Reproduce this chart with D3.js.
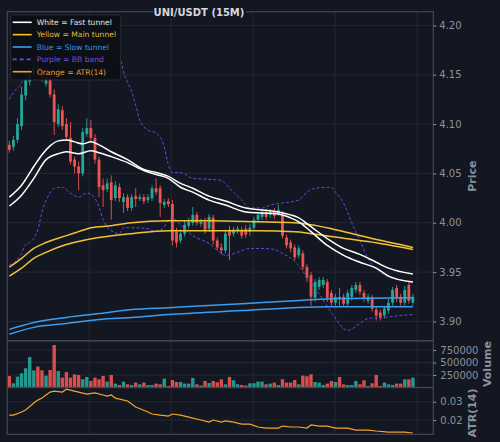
<!DOCTYPE html>
<meta charset="utf-8">
<script src="https://d3js.org/d3.v7.min.js"></script>
<style>
  body { margin: 0; background: #131722; }
  text { font-family: "DejaVu Sans", sans-serif; }
</style>
<div id="my_dataviz"></div>
<script>

  // ---- data (15m candles, index 0..99) ----
  var opens = [4.079, 4.077, 4.084, 4.098, 4.129, 4.143, 4.150, 4.159, 4.153, 4.141,
    4.147, 4.130, 4.100, 4.114, 4.100, 4.086, 4.064, 4.057, 4.050, 4.090,
    4.096, 4.086, 4.064, 4.038, 4.034, 4.041, 4.025, 4.036, 4.021, 4.026,
    4.015, 4.027, 4.024, 4.026, 4.023, 4.025, 4.035, 4.035, 4.018, 4.022,
    4.019, 3.991, 3.982, 3.989, 3.997, 4.000, 4.008, 3.999, 4.001, 3.994,
    4.005, 3.982, 3.975, 3.972, 3.993, 3.989, 3.992, 3.993, 3.994, 3.991,
    3.995, 4.003, 4.006, 4.011, 4.008, 4.012, 4.010, 4.008, 3.985, 3.980,
    3.975, 3.967, 3.969, 3.955, 3.947, 3.924, 3.935, 3.937, 3.940, 3.929,
    3.919, 3.925, 3.925, 3.918, 3.925, 3.932, 3.937, 3.929, 3.921, 3.924,
    3.912, 3.909, 3.906, 3.911, 3.919, 3.934, 3.925, 3.919, 3.937, 3.919];

  var closes = [4.074, 4.084, 4.100, 4.130, 4.145, 4.151, 4.159, 4.153, 4.147, 4.147,
    4.130, 4.102, 4.115, 4.098, 4.087, 4.062, 4.057, 4.050, 4.092, 4.096,
    4.086, 4.064, 4.036, 4.033, 4.040, 4.023, 4.038, 4.025, 4.026, 4.015,
    4.026, 4.024, 4.026, 4.022, 4.026, 4.035, 4.031, 4.020, 4.021, 4.019,
    3.982, 3.980, 3.989, 3.998, 4.001, 4.008, 4.000, 4.001, 3.993, 4.006,
    3.982, 3.975, 3.972, 3.989, 3.987, 3.993, 3.994, 3.987, 3.988, 3.995,
    4.003, 4.008, 4.011, 4.006, 4.011, 4.007, 4.013, 3.987, 3.977, 3.974,
    3.965, 3.974, 3.955, 3.944, 3.925, 3.940, 3.942, 3.942, 3.924, 3.919,
    3.925, 3.923, 3.918, 3.929, 3.934, 3.937, 3.930, 3.924, 3.925, 3.913,
    3.906, 3.904, 3.913, 3.919, 3.932, 3.924, 3.919, 3.932, 3.921, 3.925];

  var highs = [4.083, 4.088, 4.106, 4.138, 4.153, 4.155, 4.165, 4.167, 4.159, 4.151,
    4.153, 4.135, 4.120, 4.118, 4.106, 4.102, 4.067, 4.062, 4.096, 4.106,
    4.104, 4.090, 4.067, 4.045, 4.045, 4.048, 4.042, 4.040, 4.030, 4.029,
    4.029, 4.035, 4.029, 4.029, 4.029, 4.038, 4.045, 4.038, 4.024, 4.025,
    4.023, 3.995, 3.993, 4.002, 4.005, 4.016, 4.011, 4.004, 4.005, 4.009,
    4.008, 3.985, 3.979, 3.993, 3.997, 3.996, 3.997, 3.996, 3.998, 3.999,
    4.006, 4.011, 4.014, 4.014, 4.014, 4.015, 4.018, 4.012, 3.988, 3.983,
    3.978, 3.977, 3.972, 3.958, 3.950, 3.943, 3.945, 3.945, 3.943, 3.932,
    3.928, 3.934, 3.928, 3.932, 3.937, 3.940, 3.940, 3.932, 3.928, 3.927,
    3.915, 3.912, 3.916, 3.923, 3.935, 3.937, 3.928, 3.936, 3.941, 3.928];

  var lows = [4.071, 4.073, 4.081, 4.094, 4.124, 4.139, 4.147, 4.150, 4.143, 4.138,
    4.127, 4.089, 4.097, 4.094, 4.084, 4.059, 4.050, 4.033, 4.047, 4.087,
    4.082, 4.060, 4.026, 4.016, 4.031, 4.003, 4.022, 4.021, 4.010, 4.012,
    4.012, 4.016, 4.022, 4.019, 4.020, 4.022, 4.028, 4.006, 4.015, 4.016,
    3.977, 3.975, 3.979, 3.986, 3.994, 3.997, 3.997, 3.996, 3.989, 3.991,
    3.978, 3.972, 3.968, 3.969, 3.962, 3.986, 3.989, 3.984, 3.985, 3.987,
    3.992, 4.000, 4.003, 4.003, 4.005, 4.004, 4.007, 3.984, 3.974, 3.970,
    3.962, 3.964, 3.952, 3.940, 3.916, 3.920, 3.932, 3.934, 3.920, 3.916,
    3.916, 3.916, 3.915, 3.915, 3.921, 3.929, 3.927, 3.920, 3.918, 3.910,
    3.901, 3.901, 3.903, 3.908, 3.916, 3.920, 3.916, 3.916, 3.918, 3.916];

  var volumes = [230000, 84000, 218000, 284000, 384000, 610000, 344000, 418000, 344000, 238000,
    350000, 850000, 330000, 198000, 310000, 198000, 264000, 250000, 164000, 210000,
    130000, 198000, 164000, 230000, 118000, 250000, 78000, 50000, 118000, 64000,
    50000, 98000, 64000, 98000, 50000, 50000, 78000, 64000, 178000, 30000,
    150000, 110000, 110000, 78000, 78000, 190000, 64000, 40000, 130000, 90000,
    130000, 104000, 164000, 64000, 210000, 144000, 64000, 50000, 40000, 84000,
    84000, 118000, 118000, 64000, 78000, 98000, 50000, 164000, 98000, 98000,
    150000, 64000, 238000, 224000, 264000, 110000, 98000, 50000, 78000, 130000,
    110000, 210000, 64000, 50000, 50000, 130000, 64000, 144000, 30000, 84000,
    250000, 30000, 98000, 64000, 50000, 78000, 78000, 164000, 164000, 198000];

  // overlay lines: [candle index, value]
  var fastUpper = [[0, 4.026], [3, 4.038], [6, 4.057], [8, 4.069], [10, 4.078], [12, 4.083], [14, 4.084], [16, 4.082],
    [18, 4.080], [20, 4.082], [22, 4.079], [25, 4.072], [29, 4.064], [33, 4.054], [36, 4.051], [39, 4.047],
    [42, 4.040], [45, 4.035], [49, 4.027], [53, 4.022], [58, 4.015], [62, 4.013], [66, 4.011], [69, 4.008],
    [71, 4.005], [74, 3.996], [78, 3.984], [82, 3.974], [86, 3.968], [90, 3.960], [93, 3.954], [99, 3.948]];
  var fastLower = [[0, 4.017], [3, 4.028], [6, 4.045], [9, 4.064], [12, 4.070], [14, 4.072], [17, 4.070], [20, 4.073],
    [22, 4.071], [25, 4.067], [29, 4.061], [33, 4.053], [36, 4.049], [39, 4.045], [42, 4.036], [45, 4.031],
    [49, 4.023], [53, 4.018], [58, 4.011], [62, 4.010], [66, 4.009], [69, 4.005], [71, 4.001], [74, 3.991],
    [78, 3.977], [82, 3.967], [86, 3.960], [90, 3.954], [93, 3.946], [99, 3.940]];
  var mainUpper = [[0, 3.955], [3, 3.964], [6, 3.974], [9, 3.980], [14, 3.987], [17, 3.991], [20, 3.995], [25, 3.997],
    [30, 4.000], [39, 4.002], [49, 4.002], [61, 4.001], [70, 4.000], [74, 3.998], [79, 3.994], [88, 3.985], [99, 3.975]];
  var mainLower = [[0, 3.946], [3, 3.954], [6, 3.964], [9, 3.970], [14, 3.978], [18, 3.982], [22, 3.985], [30, 3.989],
    [39, 3.992], [49, 3.992], [61, 3.992], [70, 3.991], [79, 3.986], [88, 3.981], [99, 3.973]];
  var slowUpper = [[0, 3.892], [6, 3.899], [14, 3.904], [22, 3.908], [30, 3.912], [39, 3.914], [57, 3.918], [70, 3.921],
    [79, 3.923], [99, 3.924]];
  var slowLower = [[0, 3.887], [6, 3.894], [14, 3.898], [22, 3.902], [30, 3.904], [39, 3.907], [57, 3.911], [70, 3.914],
    [79, 3.915], [99, 3.915]];
  var bbUpper = [[0, 4.125], [1, 4.132], [3, 4.142], [4, 4.151], [6, 4.163], [9, 4.173], [11, 4.180], [15, 4.185],
    [19, 4.187], [22, 4.185], [25, 4.180], [27, 4.170], [28, 4.153], [30, 4.133], [31, 4.119], [32, 4.104],
    [34, 4.094], [36, 4.091], [38, 4.077], [39, 4.059], [40, 4.051], [42, 4.051], [45, 4.045], [49, 4.044],
    [52, 4.043], [54, 4.035], [57, 4.023], [59, 4.015], [62, 4.015], [64, 4.018], [67, 4.020], [71, 4.023],
    [73, 4.031], [75, 4.035], [79, 4.036], [80, 4.031], [82, 4.020], [84, 4.000], [86, 3.982], [88, 3.964],
    [91, 3.950], [93, 3.945], [96, 3.942], [99, 3.939]];
  var bbLower = [[0, 3.957], [3, 3.969], [4, 3.978], [5, 3.980], [7, 3.993], [8, 4.011], [10, 4.030], [11, 4.035],
    [13, 4.036], [15, 4.030], [17, 4.026], [19, 4.030], [20, 4.029], [22, 4.016], [23, 4.003], [25, 3.992],
    [27, 3.989], [28, 3.995], [30, 3.995], [34, 3.994], [36, 3.991], [38, 3.996], [39, 4.003], [40, 4.005],
    [42, 3.998], [45, 3.987], [49, 3.979], [52, 3.969], [53, 3.967], [56, 3.970], [59, 3.974], [62, 3.974],
    [65, 3.973], [67, 3.969], [70, 3.961], [73, 3.945], [76, 3.928], [79, 3.909], [83, 3.891], [86, 3.898],
    [88, 3.903], [92, 3.904], [96, 3.906], [99, 3.907]];
  var atr = [[0, 0.0227], [1, 0.0227], [3, 0.0244], [4, 0.0255], [6, 0.0293], [7, 0.0309], [8, 0.0320], [9, 0.0337],
    [10, 0.0353], [11, 0.0358], [13, 0.0353], [14, 0.0369], [16, 0.0358], [17, 0.0353], [19, 0.0342], [21, 0.0348],
    [23, 0.0337], [24, 0.0331], [25, 0.0337], [26, 0.0320], [29, 0.0304], [31, 0.0271], [34, 0.0244], [35, 0.0233],
    [37, 0.0227], [39, 0.0222], [40, 0.0233], [42, 0.0227], [44, 0.0216], [47, 0.0200], [49, 0.0189], [50, 0.0200],
    [52, 0.0189], [53, 0.0195], [55, 0.0189], [57, 0.0178], [59, 0.0178], [61, 0.0162], [63, 0.0156], [66, 0.0156],
    [67, 0.0167], [69, 0.0162], [71, 0.0162], [73, 0.0156], [74, 0.0173], [76, 0.0167], [78, 0.0167], [80, 0.0156],
    [83, 0.0156], [85, 0.0145], [88, 0.0145], [90, 0.0140], [93, 0.0134], [95, 0.0134], [97, 0.0134], [99, 0.0129]];

  var priceTicks = [3.90, 3.95, 4.00, 4.05, 4.10, 4.15, 4.20];
  var volumeTicks = [250000, 500000, 750000];
  var atrTicks = [0.02, 0.03];
  var gridIdx = [19.6, 39.7, 59.8, 79.9, 100];

  var legendItems = [
    { label: "White = Fast tunnel", line: "#ffffff", text: "#e6e6e6", dash: null },
    { label: "Yellow = Main tunnel", line: "#f2c232", text: "#e3bd34", dash: null },
    { label: "Blue = Slow tunnel", line: "#3c9ded", text: "#3b97e0", dash: null },
    { label: "Purple = BB band", line: "#6d45e0", text: "#7650e4", dash: "4,3" },
    { label: "Orange = ATR(14)", line: "#f5a42a", text: "#ec9d2b", dash: null }
  ];

  // ---- layout ----
  var width = 500, height = 442;
  var left = 7.3, right = 433.3;
  var pTop = 11.7, pBot = 340.7, vBot = 387.5, aBot = 434.3;
  var bg = "#131722", gridCol = "#232835", spineCol = "#434752", tickCol = "#8c919a";
  var up = "#26a69a", down = "#ef5350";

  var svg = d3.select("#my_dataviz")
    .append("svg")
    .attr("width", width)
    .attr("height", height);

  svg.append("rect").attr("width", width).attr("height", height).attr("fill", bg);

  var x = d3.scaleLinear().domain([-0.5, 104]).range([left, right]);
  var y = d3.scaleLinear().domain([3.8805, 4.2139]).range([pBot, pTop]);
  var yv = d3.scaleLinear().domain([0, 936000]).range([vBot, pBot]);
  var ya = d3.scaleLinear().domain([0.0122, 0.0378]).range([aBot, vBot]);

  // clip paths for the three panels
  var defs = svg.append("defs");
  [["clipP", pTop, pBot], ["clipV", pBot, vBot], ["clipA", vBot, aBot]].forEach(function (c) {
    defs.append("clipPath").attr("id", c[0])
      .append("rect").attr("x", left).attr("y", c[1]).attr("width", right - left).attr("height", c[2] - c[1]);
  });

  // grid lines
  var grid = svg.append("g").attr("stroke", gridCol).attr("stroke-width", 1);
  gridIdx.forEach(function (g) {
    grid.append("line").attr("x1", x(g)).attr("x2", x(g)).attr("y1", pTop).attr("y2", aBot);
  });
  priceTicks.forEach(function (t) {
    grid.append("line").attr("x1", left).attr("x2", right).attr("y1", y(t)).attr("y2", y(t));
  });
  volumeTicks.forEach(function (t) {
    grid.append("line").attr("x1", left).attr("x2", right).attr("y1", yv(t)).attr("y2", yv(t));
  });
  atrTicks.forEach(function (t) {
    grid.append("line").attr("x1", left).attr("x2", right).attr("y1", ya(t)).attr("y2", ya(t));
  });

  // volume bars
  svg.append("g").attr("clip-path", "url(#clipV)")
    .selectAll("rect").data(volumes).enter().append("rect")
    .attr("x", function (d, i) { return x(i) - 1.7; })
    .attr("width", 3.4)
    .attr("y", function (d) { return yv(d); })
    .attr("height", function (d) { return yv(0) - yv(d); })
    .attr("fill", function (d, i) { return closes[i] >= opens[i] ? up : down; })
    .attr("opacity", 0.9);

  // candles
  var candles = svg.append("g").attr("clip-path", "url(#clipP)");
  var idx = d3.range(opens.length);
  candles.selectAll("line.wick").data(idx).enter().append("line")
    .attr("x1", function (i) { return x(i); })
    .attr("x2", function (i) { return x(i); })
    .attr("y1", function (i) { return y(highs[i]); })
    .attr("y2", function (i) { return y(lows[i]); })
    .attr("stroke", function (i) { return closes[i] >= opens[i] ? up : down; })
    .attr("stroke-width", 0.9);
  candles.selectAll("rect.body").data(idx).enter().append("rect")
    .attr("x", function (i) { return x(i) - 1.4; })
    .attr("width", 2.8)
    .attr("y", function (i) { return y(Math.max(opens[i], closes[i])); })
    .attr("height", function (i) { return Math.max(1, Math.abs(y(opens[i]) - y(closes[i]))); })
    .attr("fill", function (i) { return closes[i] >= opens[i] ? up : down; });

  // overlay lines
  function drawLine(pts, yScale, clip, color, w, dash, curve) {
    var line = d3.line()
      .x(function (d) { return x(d[0]); })
      .y(function (d) { return yScale(d[1]); })
      .curve(curve || d3.curveMonotoneX);
    var p = svg.append("path")
      .datum(pts)
      .attr("clip-path", "url(#" + clip + ")")
      .attr("fill", "none")
      .attr("stroke", color)
      .attr("stroke-width", w)
      .attr("d", line);
    if (dash) p.attr("stroke-dasharray", dash);
  }
  drawLine(bbUpper, y, "clipP", "#6d45e0", 1, "3,2");
  drawLine(bbLower, y, "clipP", "#6d45e0", 1, "3,2");
  drawLine(slowUpper, y, "clipP", "#3c9ded", 1.5);
  drawLine(slowLower, y, "clipP", "#3c9ded", 1.5);
  drawLine(mainUpper, y, "clipP", "#f2c232", 1.5);
  drawLine(mainLower, y, "clipP", "#f2c232", 1.5);
  drawLine(fastUpper, y, "clipP", "#ffffff", 1.5);
  drawLine(fastLower, y, "clipP", "#ffffff", 1.5);
  drawLine(atr, ya, "clipA", "#f5a42a", 1.2, null, d3.curveLinear);

  // panel borders
  var spines = svg.append("g").attr("fill", "none").attr("stroke", spineCol).attr("stroke-width", 1.2);
  [[pTop, pBot], [pBot, vBot], [vBot, aBot]].forEach(function (p) {
    spines.append("rect").attr("x", left).attr("y", p[0]).attr("width", right - left).attr("height", p[1] - p[0]);
  });

  // right-hand axes
  function styleAxis(g) {
    g.select(".domain").remove();
    g.selectAll("line").attr("stroke", tickCol);
    g.selectAll("text").attr("fill", tickCol).style("font-size", "10px").style("font-family", "DejaVu Sans");
  }
  svg.append("g").attr("transform", "translate(" + right + ",0)")
    .call(d3.axisRight(y).tickValues(priceTicks).tickFormat(d3.format(".2f")).tickSize(3).tickPadding(3))
    .call(styleAxis);
  svg.append("g").attr("transform", "translate(" + right + ",0)")
    .call(d3.axisRight(yv).tickValues(volumeTicks).tickFormat(d3.format("d")).tickSize(3).tickPadding(4))
    .call(styleAxis);
  svg.append("g").attr("transform", "translate(" + right + ",0)")
    .call(d3.axisRight(ya).tickValues(atrTicks).tickFormat(d3.format(".2f")).tickSize(3).tickPadding(4))
    .call(styleAxis);

  // axis titles
  [["Price", 476, (pTop + pBot) / 2], ["Volume", 491, (pBot + vBot) / 2], ["ATR(14)", 476, 413]].forEach(function (l) {
    svg.append("text")
      .attr("transform", "translate(" + l[1] + "," + l[2] + ") rotate(-90)")
      .attr("text-anchor", "middle")
      .attr("fill", tickCol)
      .style("font-size", "11px")
      .style("font-weight", "bold")
      .text(l[0]);
  });

  // title
  svg.append("rect").attr("x", 153).attr("y", 5).attr("width", 93).attr("height", 13).attr("fill", bg);
  svg.append("text")
    .attr("x", 199).attr("y", 15.5)
    .attr("text-anchor", "middle")
    .attr("fill", "#d5d7dd")
    .style("font-size", "10px")
    .style("font-weight", "bold")
    .text("UNI/USDT (15M)");

  // legend
  var legend = svg.append("g");
  legend.append("rect")
    .attr("x", 10.7).attr("y", 15).attr("width", 110).attr("height", 65).attr("rx", 2)
    .attr("fill", "#0c0f15").attr("fill-opacity", 0.92)
    .attr("stroke", "#2c303b").attr("stroke-width", 0.8);
  legendItems.forEach(function (d, i) {
    var ly = 22.3 + i * 12.35;
    legend.append("line")
      .attr("x1", 12.7).attr("x2", 31.7).attr("y1", ly).attr("y2", ly)
      .attr("stroke", d.line).attr("stroke-width", 1.6)
      .attr("stroke-dasharray", d.dash);
    legend.append("text")
      .attr("x", 36.7).attr("y", ly + 2.8)
      .attr("fill", d.text)
      .style("font-size", "7.6px")
      .text(d.label);
  });

</script>
